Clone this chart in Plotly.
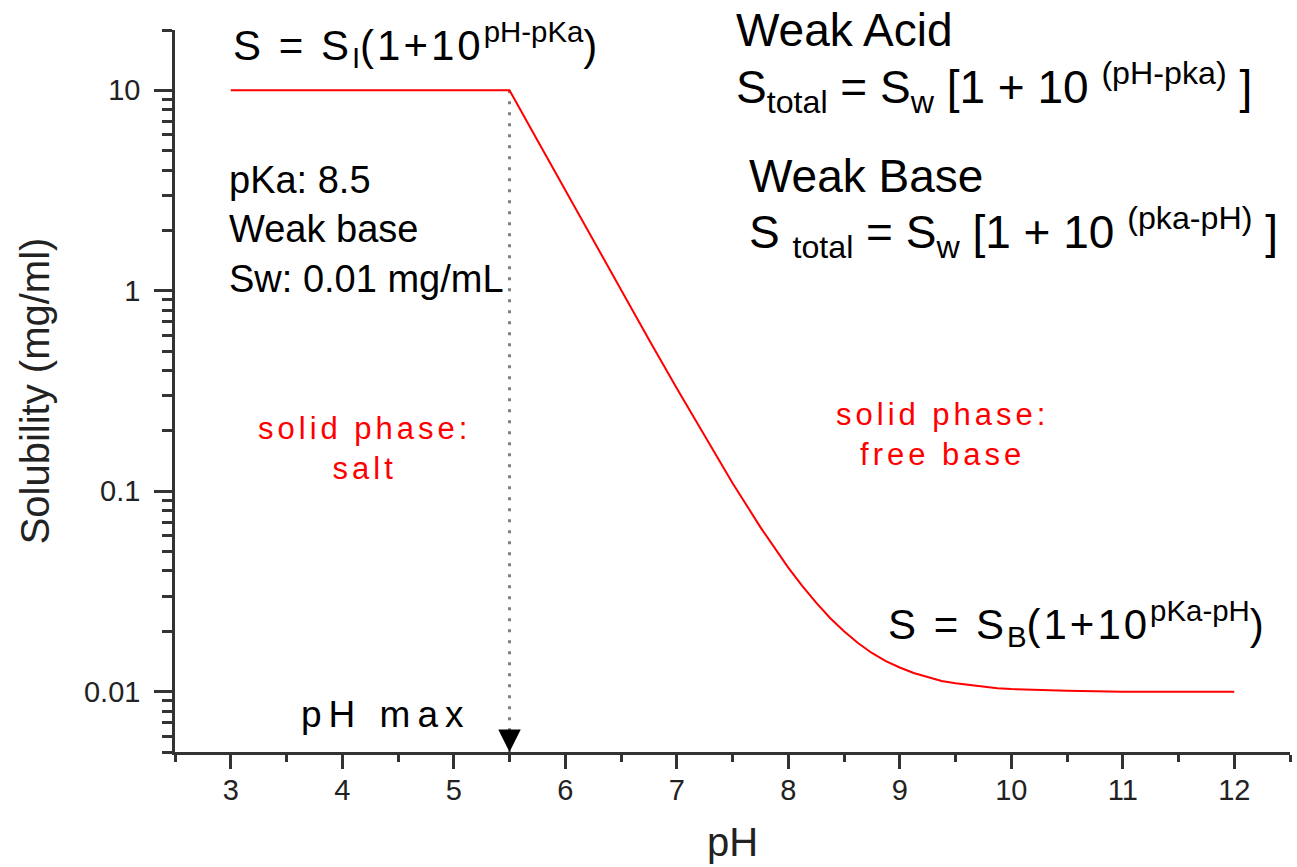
import math
import plotly.graph_objects as go

# ---- data ----
ph = [3.0, 5.5, 5.75, 6.0, 6.25, 6.5, 6.75, 7.0, 7.25, 7.5, 7.75, 8.0, 8.125, 8.25, 8.375,
      8.5, 8.625, 8.75, 8.875, 9.0, 9.125, 9.25, 9.375, 9.5, 9.625, 9.75, 9.875, 10.0,
      10.5, 11.0, 11.5, 12.0]
solubility = [10.0, 10.0, 5.63, 3.17, 1.79, 1.01, 0.572, 0.326, 0.188, 0.110, 0.0662, 0.0416,
              0.0337, 0.0278, 0.0233, 0.0200, 0.0175, 0.0156, 0.0142, 0.0132, 0.0124, 0.0118,
              0.0113, 0.0110, 0.0108, 0.0106, 0.0104, 0.0103, 0.0101, 0.0100, 0.0100, 0.0100]
ph_max = 5.5
s_at_ph_max = 10.0

x_ticks = [3, 4, 5, 6, 7, 8, 9, 10, 11, 12]
y_ticks = [0.01, 0.1, 1, 10]
y_ticktext = ["0.01", "0.1", "1", "10"]
y_minor = [0.005, 0.006, 0.007, 0.008, 0.009,
           0.02, 0.03, 0.04, 0.05, 0.06, 0.07, 0.08, 0.09,
           0.2, 0.3, 0.4, 0.5, 0.6, 0.7, 0.8, 0.9,
           2, 3, 4, 5, 6, 7, 8, 9, 20]
x_range = [2.5, 12.5]
y_range = [0.005, 20]

FONT = "Liberation Sans, Arial, Helvetica, sans-serif"
AX = "#333333"

fig = go.Figure()

# dotted line from the break point down to the axis
fig.add_trace(go.Scatter(
    x=[ph_max, ph_max], y=[s_at_ph_max, y_range[0]], mode="lines",
    line=dict(color="#808080", width=3, dash="3px,8px"), showlegend=False, hoverinfo="skip"))

# solubility curve
fig.add_trace(go.Scatter(
    x=ph, y=solubility, mode="lines",
    line=dict(color="#ff0000", width=2), showlegend=False))

L = math.log10


def ann(text, x, y, size, color="#000000", xanchor="left", align="left"):
    fig.add_annotation(text=text, x=x, y=y, xref="x", yref="y", showarrow=False,
                       xanchor=xanchor, yanchor="middle", align=align,
                       font=dict(family=FONT, size=size, color=color))


sp = '<span style="letter-spacing:3px">'
ann(sp + "S = S</span><sub>I</sub>" + sp + "(1+10</span><sup>pH-pKa</sup>)", 3.0, 1.23, 42)
ann("Weak Acid", 7.51, 1.30, 46)
ann("S<sub>total</sub> = S<sub>w</sub> [1 + 10 <sup>(pH-pka)</sup> ]", 7.51, 1.015, 46)
ann("Weak Base", 7.63, 0.575, 46)
ann("S <sub>total</sub> = S<sub>w</sub> [1 + 10 <sup>(pka-pH)</sup> ]", 7.63, 0.29, 46)
ann("pKa: 8.5<br>Weak base<br>Sw: 0.01 mg/mL", 2.97, 0.305, 38)
rs = '<span style="letter-spacing:4px">'
ann(rs + "solid phase:</span><br>" + rs + "salt</span>", 4.2, -0.785, 31,
    color="#ff0000", xanchor="center", align="center")
ann(rs + "solid phase:</span><br>" + rs + "free base</span>", 9.38, -0.715, 31,
    color="#ff0000", xanchor="center", align="center")
ann(sp + "S = S</span><sub>B</sub>" + sp + "(1+10</span><sup>pKa-pH</sup>)", 8.88, -1.66, 42)
ann('<span style="letter-spacing:7px">pH max</span>', 3.61, -2.115, 37)

# arrow head at pH max
fig.add_annotation(x=ph_max, y=L(y_range[0]), xref="x", yref="y", ax=0, ay=-24,
                   showarrow=True, arrowhead=2, arrowsize=3, arrowwidth=1.5,
                   arrowcolor="#000000", standoff=0, text="")

fig.update_layout(
    width=1297, height=867,
    margin=dict(l=175, r=7, t=30, b=115),
    paper_bgcolor="white", plot_bgcolor="white",
    font=dict(family=FONT, color="#222222"),
    showlegend=False,
)
fig.update_xaxes(
    range=x_range, tickmode="array", tickvals=x_ticks,
    showline=True, linecolor=AX, linewidth=2.5, mirror=False,
    ticks="outside", ticklen=14, tickwidth=2.5, tickcolor=AX,
    minor=dict(tickmode="linear", tick0=2.5, dtick=0.5, ticks="outside",
               ticklen=7, tickwidth=2.5, tickcolor=AX, showgrid=False),
    showgrid=False, zeroline=False,
    tickfont=dict(family=FONT, size=29, color="#222222"),
    ticklabelstandoff=-4,
    title=dict(text="pH", font=dict(family=FONT, size=40, color="#222222"), standoff=24),
)
fig.update_yaxes(
    type="log", range=[L(y_range[0]), L(y_range[1])],
    tickmode="array", tickvals=y_ticks, ticktext=y_ticktext,
    showline=True, linecolor=AX, linewidth=2.5, mirror=False,
    ticks="outside", ticklen=18, tickwidth=2.5, tickcolor=AX,
    minor=dict(tickmode="array", tickvals=y_minor, ticks="outside",
               ticklen=10, tickwidth=2.5, tickcolor=AX, showgrid=False),
    showgrid=False, zeroline=False,
    tickfont=dict(family=FONT, size=29, color="#222222"),
    ticklabelstandoff=8,
    title=dict(text="Solubility (mg/ml)", font=dict(family=FONT, size=40, color="#222222"),
               standoff=22),
)

fig.write_html("out.html")
